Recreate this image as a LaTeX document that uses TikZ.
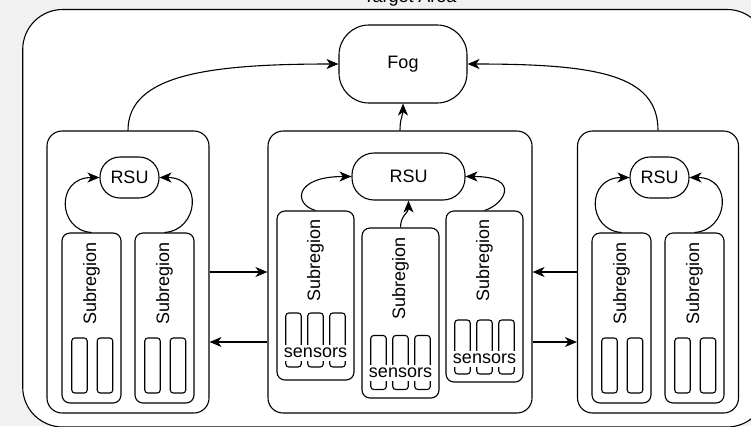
\documentclass[tikz,border=0pt]{standalone}
\usepackage{fontspec}
\setmainfont{Liberation Sans}
\usetikzlibrary{arrows.meta}
\definecolor{bggray}{HTML}{F1F1F1}

\begin{document}
\begin{tikzpicture}[x=1pt, y=-1pt,
  line width=1.1pt,
  font=\fontsize{18}{21}\selectfont,
  shell/.style={draw, fill=white, inner sep=0pt, rounded corners=#1},
  panel/.style={shell=15pt, minimum width=#1, minimum height=282pt},
  subbox/.style={shell=8pt, minimum width=#1},
  sensor/.style={shell=3pt, minimum width=15.5pt},
  senslabel/.style={fill=white, inner xsep=1pt, inner ysep=2.6pt},
  sublabel/.style={rotate=90, inner sep=0pt},
  arr/.style={-{Stealth[length=12pt, width=10pt, inset=3.5pt]}}
]
\useasboundingbox (0,0) rectangle (751,426);
\fill[bggray] (0,0) rectangle (751,426);

% outer area and its title
\node[shell=40pt, minimum width=744.3pt, minimum height=417.5pt] (area) at (394.85,218.25) {};
\node[anchor=base] (title) at (410,2.5) {Target Area};

% fog node
\node[shell=30pt, minimum width=128pt, minimum height=78pt] (fog) at (403,64) {Fog};

% three panels
\node[panel=162pt] (lp) at (128,272) {};
\node[panel=264pt] (mp) at (400,272) {};
\node[panel=161pt] (rp) at (658,272) {};

% road side units
\node[shell=20pt, minimum width=59pt, minimum height=41pt] (lrsu) at (129.5,177.5) {RSU};
\node[shell=22pt, minimum width=113pt, minimum height=47pt] (mrsu) at (408.5,176.5) {RSU};
\node[shell=20pt, minimum width=59pt, minimum height=41pt] (rrsu) at (659.5,177.5) {RSU};

% subregions of the side panels
\foreach \n/\x in {l1/91.5, l2/164.5, r1/621.5, r2/694.5} {
  \node[subbox=59pt, minimum height=170pt] (\n) at (\x,318) {};
  \node[sublabel] (\n-lab) at (\x,283) {Subregion};
  \node[sensor, minimum height=55pt] (\n-s1) at (\x-12,365.5) {};
  \node[sensor, minimum height=55pt] (\n-s2) at (\x+13.5,365.5) {};
}

% subregions of the middle panel, with labelled sensor groups
\foreach \n/\x/\cy/\h/\sy/\ly/\ty in {ml/315.5/295.5/169/340/353/260.5,
                                       mm/400.5/313/170/362.5/373/278.5,
                                       mr/484.5/296.5/171/347/359/260.5} {
  \node[subbox=77pt, minimum height=\h pt] (\n) at (\x,\cy) {};
  \node[sublabel] (\n-lab) at (\x,\ty) {Subregion};
  \node[sensor, minimum height=54pt] (\n-s1) at (\x-22,\sy) {};
  \node[sensor, minimum height=54pt] (\n-s2) at (\x,\sy) {};
  \node[sensor, minimum height=54pt] (\n-s3) at (\x+22,\sy) {};
  \node[senslabel] (\n-sens) at (\x,\ly) {sensors};
}

% links up to the fog node
\draw[arr] (lp.north) .. controls +(0,-56) and +(-129,0) .. (fog.west);
\draw[arr] (rp.north) .. controls +(0,-56) and +(129,0) .. (fog.east);
\draw[arr] (mp.north) .. controls +(0,-14) and +(0,14) .. (fog.south);

% links from subregions to their road side unit
\draw[arr] (l1.north) .. controls +(-34,-2) and +(-44,0) .. (lrsu.west);
\draw[arr] (l2.north) .. controls +(34,-2) and +(44,0) .. (lrsu.east);
\draw[arr] (r1.north) .. controls +(-34,-2) and +(-44,0) .. (rrsu.west);
\draw[arr] (r2.north) .. controls +(34,-2) and +(44,0) .. (rrsu.east);
\draw[arr] (ml.north) .. controls +(-22,-6) and +(-58,0) .. (mrsu.west);
\draw[arr] (mr.north) .. controls +(20,-6) and +(56,0) .. (mrsu.east);
\draw[arr] (mm.north) .. controls +(0,-12) and +(0,12) .. (mrsu.south);

% exchanges between neighbouring panels
\draw[arr] (lp.east) -- (mp.west);
\draw[arr] ([yshift=-70pt]mp.west) -- ([yshift=-70pt]lp.east);
\draw[arr] (rp.west) -- (mp.east);
\draw[arr] ([yshift=-70pt]mp.east) -- ([yshift=-70pt]rp.west);
\end{tikzpicture}
\end{document}
